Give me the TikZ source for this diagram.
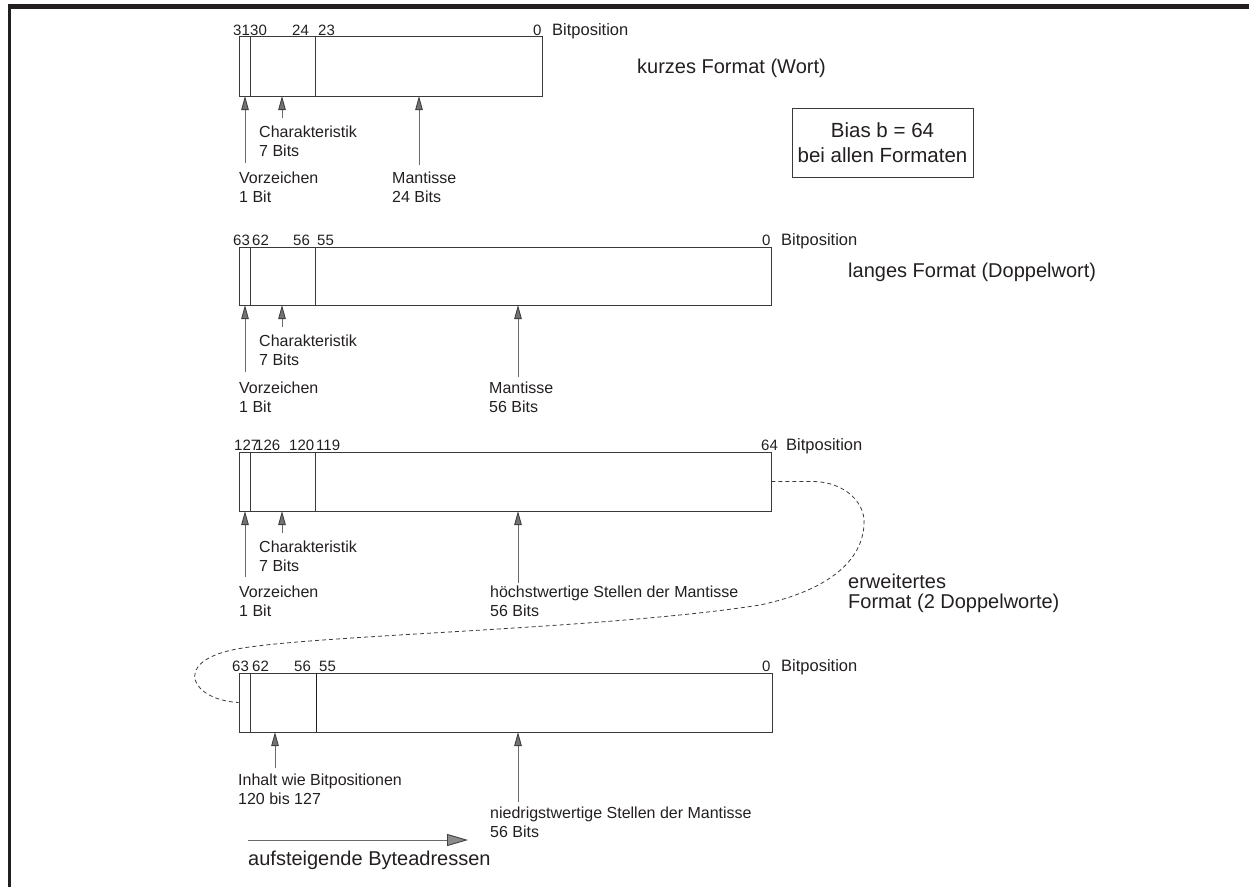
\documentclass[tikz,border=0pt]{standalone}
\usepackage{fontspec}
\setmainfont{Liberation Sans}
\usetikzlibrary{arrows.meta}
\definecolor{ink}{HTML}{231F20}
\definecolor{rule}{HTML}{3A3A3A}
\definecolor{shaft}{HTML}{6A6A6A}
\tikzset{
  wordbox/.style={draw=rule, line width=0.9pt, rectangle, inner sep=0pt},
  divider/.style={draw=rule, line width=0.9pt},
  lbl/.style={anchor=base west, inner sep=0pt, text=ink, font=\fontsize{16}{19}\selectfont},
  bitno/.style={anchor=base west, inner sep=0pt, text=ink, font=\fontsize{15}{17}\selectfont},
  bitpos/.style={anchor=base west, inner sep=0pt, text=ink, font=\fontsize{16.5}{19}\selectfont},
  heading/.style={anchor=base west, inner sep=0pt, text=ink, font=\fontsize{20}{23}\selectfont},
  ptr/.style={draw=shaft, line width=0.9pt,
    -{Triangle[length=14pt,width=7.5pt,fill=black!55,color=black!75]}},
  bigptr/.style={draw=shaft, line width=0.9pt,
    -{Triangle[length=21pt,width=12pt,fill=black!45,color=black!75]}},
  link/.style={draw=rule, line width=0.8pt, dash pattern=on 4pt off 3pt}
}
\newcommand\twolines[5]{%
  \node[lbl] (#1) at (#2,#3) {#4};
  \node[lbl] (#1b) at (#2,#3+19) {#5};}
\begin{document}
\begin{tikzpicture}[x=1pt,y=-1pt]
\useasboundingbox (0,0) rectangle (1249,887);
% frame bars
\fill[ink] (8,4) rectangle (1249,9);
\fill[ink] (8,4) rectangle (11,887);

% ---------- short format (word) ----------
\node[wordbox, minimum width=303pt, minimum height=60pt] (w1) at (390.5,66) {};
\draw[divider] (250,36) -- (250,96);
\draw[divider] (315,36) -- (315,96);
\node[bitno] (w1a) at (233,35) {31};
\node[bitno] (w1b) at (250,35) {30};
\node[bitno] (w1c) at (292,35) {24};
\node[bitno] (w1d) at (318,35) {23};
\node[bitno] (w1e) at (533,35) {0};
\node[bitpos] (w1p) at (552,35) {Bitposition};
\node[heading] (h1) at (637,73) {kurzes Format (Wort)};
\twolines{c1}{259}{137}{Charakteristik}{7 Bits}
\twolines{v1}{239}{183}{Vorzeichen}{1 Bit}
\twolines{m1}{392}{183}{Mantisse}{24 Bits}
\coordinate (v1f) at (245,163); \coordinate (v1t) at (245,96);
\coordinate (c1f) at (282,118); \coordinate (c1t) at (282,96);
\coordinate (m1f) at (419,165); \coordinate (m1t) at (419,96);
\draw[ptr] (v1f) -- (v1t);
\draw[ptr] (c1f) -- (c1t);
\draw[ptr] (m1f) -- (m1t);

% bias note
\node[draw=rule, line width=0.9pt, minimum width=181pt, minimum height=69pt,
      align=center, text=ink, font=\fontsize{20.5}{25}\selectfont]
  (bias) at (882.5,142.5) {Bias b = 64\\bei allen Formaten};

% ---------- long format (double word) ----------
\node[wordbox, minimum width=532pt, minimum height=58pt] (w2) at (505,276) {};
\draw[divider] (250,247) -- (250,305);
\draw[divider] (315,247) -- (315,305);
\node[bitno] (w2a) at (233,245) {63};
\node[bitno] (w2b) at (252,245) {62};
\node[bitno] (w2c) at (293,245) {56};
\node[bitno] (w2d) at (317,245) {55};
\node[bitno] (w2e) at (762,245) {0};
\node[bitpos] (w2p) at (781,245) {Bitposition};
\node[heading] (h2) at (848,277) {langes Format (Doppelwort)};
\twolines{c2}{259}{346}{Charakteristik}{7 Bits}
\twolines{v2}{239}{393}{Vorzeichen}{1 Bit}
\twolines{m2}{489}{393}{Mantisse}{56 Bits}
\coordinate (v2f) at (245,372); \coordinate (v2t) at (245,305);
\coordinate (c2f) at (282,327); \coordinate (c2t) at (282,305);
\coordinate (m2f) at (518,377); \coordinate (m2t) at (518,305);
\draw[ptr] (v2f) -- (v2t);
\draw[ptr] (c2f) -- (c2t);
\draw[ptr] (m2f) -- (m2t);

% ---------- extended format, high double word ----------
\node[wordbox, minimum width=532pt, minimum height=59pt] (w3) at (505,481.5) {};
\draw[divider] (250,452) -- (250,511);
\draw[divider] (315,452) -- (315,511);
\node[bitno] (w3a) at (234,450) {127};
\node[bitno] (w3b) at (255,450) {126};
\node[bitno] (w3c) at (289,450) {120};
\node[bitno] (w3d) at (316,450) {119};
\node[bitno] (w3e) at (761,450) {64};
\node[bitpos] (w3p) at (786,450) {Bitposition};
\twolines{c3}{259}{552}{Charakteristik}{7 Bits}
\twolines{v3}{239}{597}{Vorzeichen}{1 Bit}
\twolines{m3}{490}{597}{höchstwertige Stellen der Mantisse}{56 Bits}
\coordinate (v3f) at (245,577); \coordinate (v3t) at (245,511);
\coordinate (c3f) at (282,533); \coordinate (c3t) at (282,511);
\coordinate (m3f) at (518,583); \coordinate (m3t) at (518,511);
\draw[ptr] (v3f) -- (v3t);
\draw[ptr] (c3f) -- (c3t);
\draw[ptr] (m3f) -- (m3t);
\node[heading] (h3) at (848,588) {erweitertes};
\node[heading] (h3b) at (848,608) {Format (2 Doppelworte)};

% ---------- extended format, low double word ----------
\node[wordbox, minimum width=533pt, minimum height=59pt] (w4) at (505.5,702.5) {};
\draw[divider] (250,673) -- (250,732);
\draw[divider, draw=ink] (316,673) -- (316,732);
\node[bitno] (w4a) at (232,671) {63};
\node[bitno] (w4b) at (252,671) {62};
\node[bitno] (w4c) at (294,671) {56};
\node[bitno] (w4d) at (319,671) {55};
\node[bitno] (w4e) at (762,671) {0};
\node[bitpos] (w4p) at (781,671) {Bitposition};
\twolines{i4}{238}{785}{Inhalt wie Bitpositionen}{120 bis 127}
\twolines{m4}{490}{818}{niedrigstwertige Stellen der Mantisse}{56 Bits}
\coordinate (i4f) at (275,768); \coordinate (i4t) at (275,732);
\coordinate (m4f) at (518,802); \coordinate (m4t) at (518,732);
\draw[ptr] (i4f) -- (i4t);
\draw[ptr] (m4f) -- (m4t);

% dashed link joining the two double words
\draw[link] (w3.east) -- (812,481.5)
  .. controls (845,481.5) and (866,503) .. (864,525)
  .. controls (862,560) and (830,590) .. (760,605)
  .. controls (600,630) and (300,635) .. (232,650)
  .. controls (172,663) and (192,700) .. (w4.west);

% byte address direction
\coordinate (ba0) at (248,840);
\coordinate (ba1) at (468,840);
\draw[bigptr] (ba0) -- (ba1);
\node[heading] (bat) at (248,865) {aufsteigende Byteadressen};
\end{tikzpicture}
\end{document}
